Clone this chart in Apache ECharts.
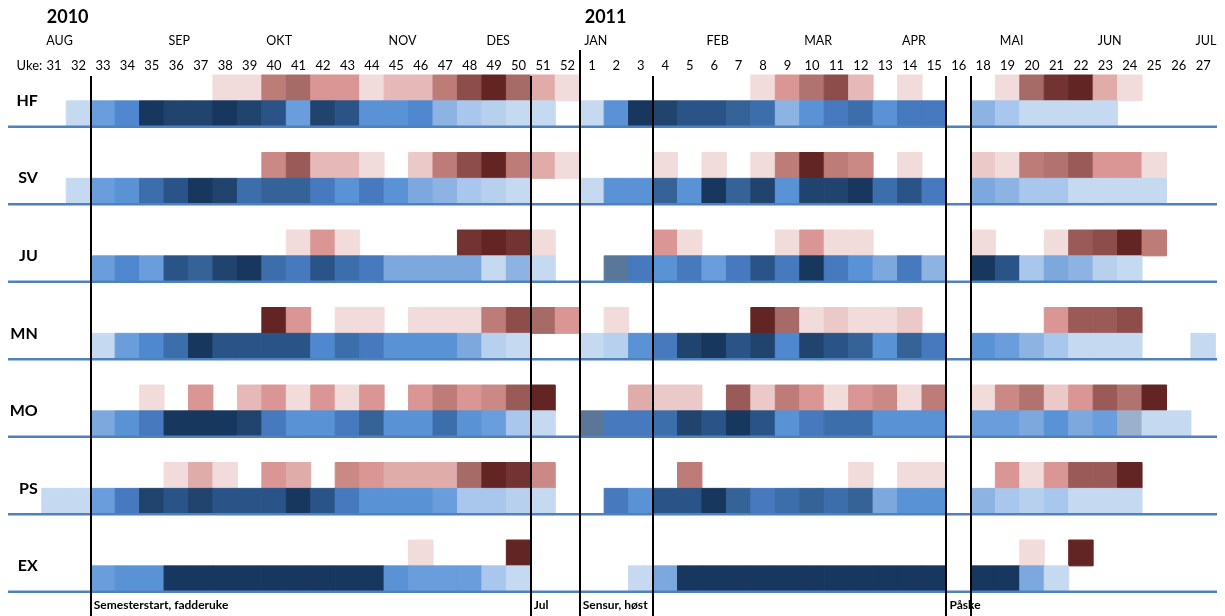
<!DOCTYPE html>
<html><head><meta charset="utf-8">
<script src="https://cdn.jsdelivr.net/npm/echarts@6/dist/echarts.min.js"></script>
<style>html,body{margin:0;padding:0;background:#fff}#c{width:1225px;height:616px}</style>
</head><body><div id="c"></div>
<script>
// ---- categories ----
const WEEKS = ['31','32','33','34','35','36','37','38','39','40','41','42','43','44','45','46','47','48','49','50','51','52',
  '1','2','3','4','5','6','7','8','9','10','11','12','13','14','15','16',
  '18','19','20','21','22','23','24','25','26','27'];
const FACULTIES = ['HF','SV','JU','MN','MO','PS','EX'];
// month label -> column index where it starts
const MONTHS = [[0,'AUG'],[5,'SEP'],[9,'OKT'],[14,'NOV'],[18,'DES'],[22,'JAN'],[27,'FEB'],[31,'MAR'],[35,'APR'],[39,'MAI'],[43,'JUN'],[47,'JUL']];
const YEARS = [[0,'2010'],[22,'2011']];
const EVENTS = [[2,'Semesterstart, fadderuke'],[20,'Jul'],[22,'Sensur, høst'],[37,'Påske']];
const EVENT_LINES = [2,20,22,25,37,38];
const UKE_LABEL = 'Uke:';

// ---- values (0 = empty). red = upper band, blue = lower band ----
const HF_RED  = [0,0,0,0,0,0,0,1,1,7,9,5,5,1,3,3,7,11,13,9,4,1, 0,0,0,0,0,0,0,1,5,8,11,3,0,1,0,0, 0,1,9,12,13,4,1,0,0,0];
const HF_BLUE = [0,1,6,8,14,13,13,14,13,12,6,13,12,7,7,8,4,3,2,1,1,0, 1,7,14,13,12,12,11,10,4,7,9,10,7,9,9,0, 4,3,1,1,1,1,0,0,0,0];
const SV_RED  = [0,0,0,0,0,0,0,0,0,6,10,3,3,1,0,2,7,11,13,7,4,1, 0,0,0,1,0,1,0,1,7,13,7,6,0,1,0,0, 2,1,7,8,10,5,5,1,0,0];
const SV_BLUE = [0,1,6,7,10,12,14,13,10,11,11,9,7,9,7,5,4,3,2,1,0,0, 1,7,7,11,7,14,11,13,7,13,13,14,10,12,9,0, 5,4,3,3,1,1,1,1,0,0];
const JU_RED  = [0,0,0,0,0,0,0,0,0,0,1,5,1,0,0,0,0,12,13,12,1,0, 0,0,0,5,1,0,0,0,1,5,1,1,0,0,0,0, 1,0,0,1,10,11,13,7,0,0];
const JU_BLUE = [0,0,6,8,6,12,11,13,14,10,9,12,10,9,5,5,5,5,1,4,1,0, 0,15,9,7,9,6,9,12,9,14,9,7,5,9,4,0, 14,12,3,5,4,2,1,0,0,0];
const MN_RED  = [0,0,0,0,0,0,0,0,0,13,5,0,1,1,0,1,1,1,7,11,9,5, 0,1,0,0,0,0,0,13,9,1,2,1,1,2,0,0, 0,0,0,5,10,10,11,0,0,0];
const MN_BLUE = [0,0,1,6,8,10,14,12,12,12,12,8,10,9,7,7,7,5,2,1,0,0, 1,2,7,9,13,14,12,13,8,13,12,11,7,11,9,0, 7,6,4,3,1,1,1,0,0,1];
const MO_RED  = [0,0,0,0,1,0,5,0,3,5,1,5,1,5,0,5,7,5,6,10,13,0, 0,0,4,2,2,0,10,2,7,5,1,5,6,1,7,0, 1,6,8,2,5,10,8,13,0,0];
const MO_BLUE = [0,0,5,7,9,14,14,14,13,9,7,7,9,11,7,7,10,7,6,3,1,0, 15,9,9,10,13,12,14,12,7,9,10,10,7,7,7,0, 6,6,5,7,5,6,16,1,1,0];
const PS_RED  = [0,0,0,0,0,1,4,1,0,5,4,0,6,5,4,4,4,9,13,12,6,0, 0,0,0,0,7,0,0,0,0,0,0,1,0,1,1,0, 0,5,1,5,10,10,13,0,0,0];
const PS_BLUE = [1,1,6,9,13,12,13,12,12,12,14,12,9,7,7,7,6,3,3,2,1,0, 0,9,7,12,12,14,11,9,10,11,10,11,5,7,7,0, 4,3,2,3,1,1,1,0,0,0];
const EX_RED  = [0,0,0,0,0,0,0,0,0,0,0,0,0,0,0,1,0,0,0,13,0,0, 0,0,0,0,0,0,0,0,0,0,0,0,0,0,0,0, 0,0,1,0,13,0,0,0,0,0];
const EX_BLUE = [0,0,6,7,7,14,14,14,14,14,14,14,14,14,7,6,6,6,3,1,0,0, 0,0,1,5,14,14,14,14,14,14,14,14,14,14,14,0, 14,14,5,1,0,0,0,0,0,0];

// ---- colour scales (level -> colour) ----
const RED_COLORS = ['#F2DCDB','#EBC9C8','#E6B9B8','#E0ACAA','#D99694','#CB8986','#BE7C79','#B07370','#A66A67','#9A5A58','#8C4D4B','#733333','#632523'];
const BLUE_COLORS = ['#C5D9F1','#B7D0EE','#A9C6EC','#8DB3E2','#7CA8DE','#6A9DDB','#5A92D6','#4F88CF','#4679BD','#3D6EAC','#356398','#2A5487','#21446F','#18375E','#5A7698','#9AB0CD'];

const RED_ROWS = [HF_RED, SV_RED, JU_RED, MN_RED, MO_RED, PS_RED, EX_RED];
const BLUE_ROWS = [HF_BLUE, SV_BLUE, JU_BLUE, MN_BLUE, MO_BLUE, PS_BLUE, EX_BLUE];

// y rows: for each faculty a red band, a blue band, then a gap
const ROW_KEYS = [];
FACULTIES.forEach((f, k) => {
  ROW_KEYS.push(f + '_red', f + '_blue');
  if (k < FACULTIES.length - 1) ROW_KEYS.push(f + '_gap');
});
const redData = [], blueData = [];
FACULTIES.forEach((f, k) => {
  RED_ROWS[k].forEach((v, i) => { if (v) redData.push([i, 3 * k, v]); });
  BLUE_ROWS[k].forEach((v, i) => { if (v) blueData.push([i, 3 * k + 1, v]); });
});

const FONT = 'Lato';
const facLabel = {};
FACULTIES.forEach((f, k) => { facLabel[3 * k + 1] = f; });
const hidden = { axisLine: { show: false }, axisTick: { show: false }, splitLine: { show: false } };

// one cell per data item, sized by the category bands
function renderCell(params, api) {
  const p = api.coord([api.value(0), api.value(1)]);
  const s = api.size([1, 1]);
  const c = api.visual('color');
  return { type: 'rect', shape: { x: p[0] - s[0] / 2, y: p[1] - s[1] / 2, width: s[0], height: s[1] },
    style: { fill: c, stroke: c, lineWidth: 1 } };
}

const chart = echarts.init(document.getElementById('c'), null, { renderer: 'canvas' });
chart.setOption({
  animation: false,
  backgroundColor: '#fff',
  grid: { left: 41.8, right: 9.6, top: 75, bottom: 24.3, containLabel: false },
  xAxis: [
    Object.assign({ type: 'category', data: WEEKS, position: 'top',
      axisLabel: { interval: 0, margin: 3, fontSize: 13, color: '#000', fontFamily: FONT } }, hidden)
  ],
  yAxis: [
    Object.assign({ type: 'category', data: ROW_KEYS, inverse: true, axisLabel: { show: false } }, hidden),
    Object.assign({ type: 'value', position: 'left', min: 0, max: ROW_KEYS.length, interval: 1, inverse: true,
      axisLabel: { formatter: v => facLabel[v] || '', margin: 4, fontSize: 16, fontWeight: 'bold', color: '#000', fontFamily: FONT } }, hidden)
  ],
  visualMap: [
    { type: 'piecewise', show: false, seriesIndex: 0, dimension: 2, pieces: RED_COLORS.map((c, i) => ({ value: i + 1, color: c })) },
    { type: 'piecewise', show: false, seriesIndex: 1, dimension: 2, pieces: BLUE_COLORS.map((c, i) => ({ value: i + 1, color: c })) }
  ],
  series: [
    { name: 'red', type: 'custom', xAxisIndex: 0, yAxisIndex: 0, data: redData, encode: { x: 0, y: 1 }, renderItem: renderCell, silent: true },
    { name: 'blue', type: 'custom', xAxisIndex: 0, yAxisIndex: 0, data: blueData, encode: { x: 0, y: 1 }, renderItem: renderCell, silent: true }
  ]
});

// column boundaries derived from the category axis
const c0 = chart.convertToPixel({ xAxisIndex: 0 }, 0);
const bw = chart.convertToPixel({ xAxisIndex: 0 }, 1) - c0;
const boundary = b => c0 - bw / 2 + b * bw;

const g = [];
function txt(x, y, text, font, align) {
  g.push({ type: 'text', z: 70, x, y, style: { text, font, fill: '#000', align: align || 'left', verticalAlign: 'middle', textAlign: align || 'left', textVerticalAlign: 'middle' } });
}
FACULTIES.forEach((f, k) => {
  const y = chart.convertToPixel({ yAxisIndex: 1 }, 3 * k + 2);
  g.push({ type: 'line', z: 50, shape: { x1: 8, y1: y, x2: 1217, y2: y }, style: { stroke: '#4F81BD', lineWidth: 2.5 } });
});
EVENT_LINES.forEach(b => {
  const x = Math.round(boundary(b));
  g.push({ type: 'line', z: 60, shape: { x1: x, y1: b === 22 ? 50 : 76, x2: x, y2: 616 }, style: { stroke: '#000', lineWidth: 2 } });
});
MONTHS.forEach(([c, m]) => txt(boundary(c) + 4.5, 41, m, '12.5px ' + FONT));
YEARS.forEach(([c, y]) => txt(boundary(c) + 5, 17, y, 'bold 18px ' + FONT));
EVENTS.forEach(([c, e]) => txt(boundary(c) + 3, 605, e, 'bold 12px ' + FONT));
txt(boundary(0) + 0.5, 65.5, UKE_LABEL, '13px ' + FONT, 'right');
chart.setOption({ graphic: g });
</script>
</body></html>
